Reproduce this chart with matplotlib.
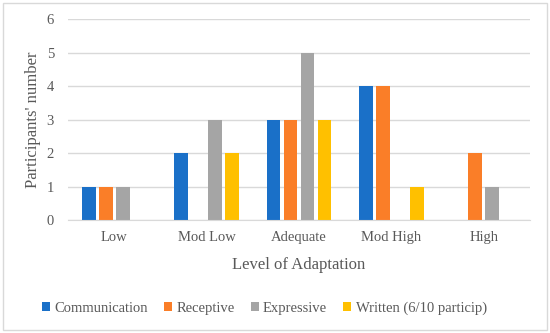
import numpy as np
import matplotlib.pyplot as plt
from matplotlib.patches import Rectangle

categories = ["Low", "Mod Low", "Adequate", "Mod High", "High"]
communication = [1, 2, 3, 4, 0]
receptive = [1, 0, 3, 4, 2]
expressive = [1, 3, 5, 0, 1]
written = [0, 2, 3, 1, 0]

series = [
    ("Communication", communication, "#1a70c8"),
    ("Receptive", receptive, "#fa7e28"),
    ("Expressive", expressive, "#a5a5a5"),
    ("Written (6/10 particip)", written, "#ffc000"),
]

plt.rcParams['font.family'] = ['Liberation Serif', 'DejaVu Serif']
text_color = "#595959"

fig = plt.figure(figsize=(5.5, 3.33), dpi=100)
ax = fig.add_axes([0.1236, 0.339, 0.84, 0.604])

x = np.arange(len(categories))
width = 0.148
step = 0.184
for i, (name, vals, color) in enumerate(series):
    ax.bar(x + (i - 1.5) * step, vals, width, color=color, label=name, zorder=3)

ax.set_xlim(-0.5, len(categories) - 0.5)
ax.set_ylim(0, 6)
ax.set_yticks(range(0, 7))
ax.grid(axis='y', color="#d9d9d9", linewidth=1, zorder=0)
for s in ["top", "right", "left"]:
    ax.spines[s].set_visible(False)
ax.spines["bottom"].set_color("#d9d9d9")
ax.spines["bottom"].set_zorder(4)
ax.tick_params(axis='both', length=0, colors=text_color, labelsize=10.5)
ax.tick_params(axis='y', pad=10)
ax.tick_params(axis='x', pad=8)
ax.set_xticks(x)
ax.set_xticklabels(categories)

ax.set_ylabel("Participants' number", fontsize=12, color=text_color, labelpad=4)
ax.set_xlabel("Level of Adaptation", fontsize=12, color=text_color, labelpad=9)

ax.legend(loc='upper center', bbox_to_anchor=(0.425, -0.34), ncol=4, frameon=False,
          fontsize=10.5, labelcolor=text_color, handlelength=0.55, handleheight=0.55,
          handletextpad=0.3, columnspacing=1.1)

fig.patches.append(Rectangle((0.006, 0.009), 0.988, 0.982, transform=fig.transFigure,
                             fill=False, edgecolor="#d9d9d9", linewidth=1))

fig.savefig("out.png", dpi=100)
